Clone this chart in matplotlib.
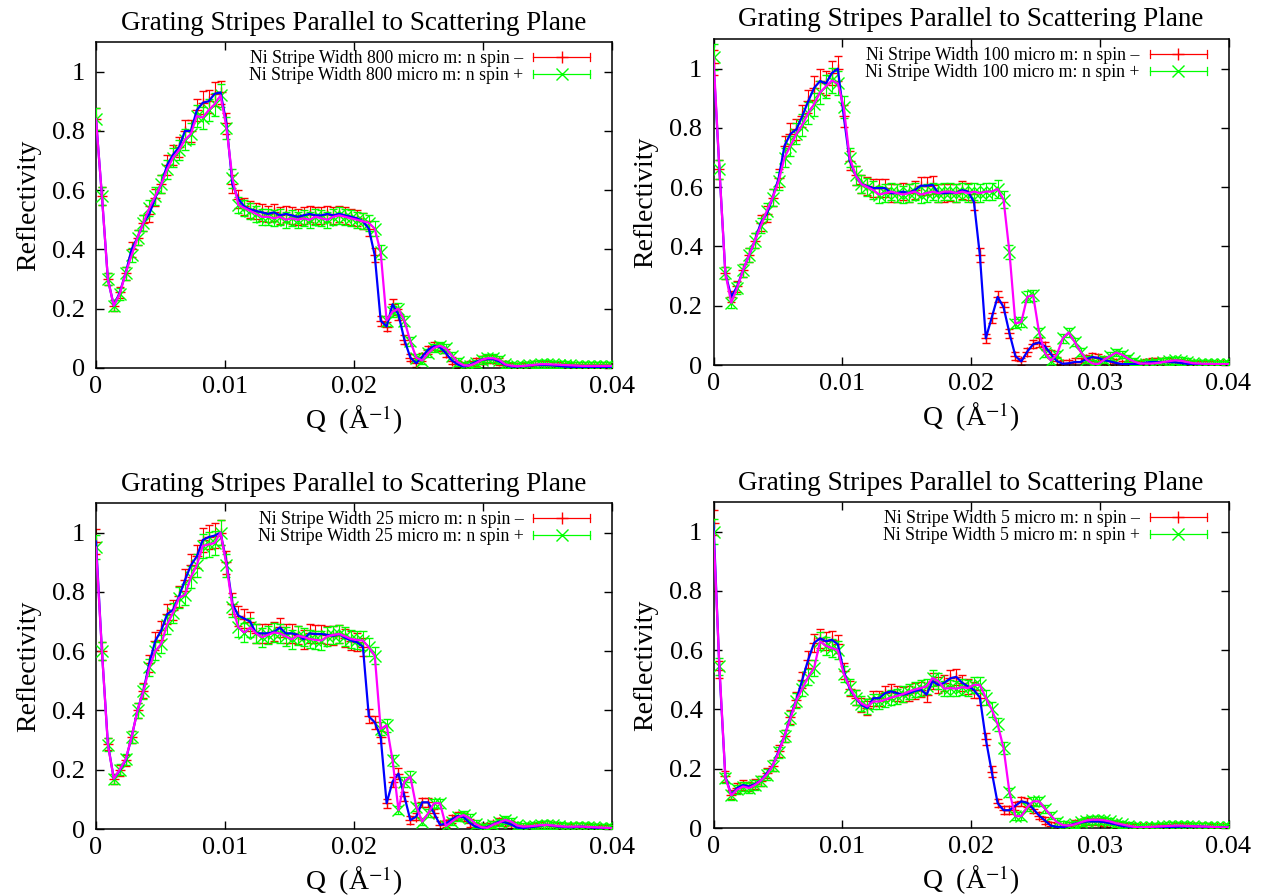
import numpy as np
import matplotlib
matplotlib.use('Agg')
import matplotlib.pyplot as plt
from matplotlib.lines import Line2D
from matplotlib.legend_handler import HandlerBase

plt.rcParams['font.family'] = ['Liberation Serif', 'DejaVu Serif']
plt.rcParams['mathtext.fontset'] = 'stix'

# ---------------- data ----------------
N_POINTS = 88
q = np.linspace(0.0, 0.04, N_POINTS)

titles = ['Grating Stripes Parallel to Scattering Plane'] * 4
stripe_widths = ['800', '100', '25', '5']

r800_minus = [
    0.84, 0.58, 0.30, 0.21, 0.255, 0.32, 0.40, 0.44, 0.49, 0.52,
    0.575, 0.62, 0.685, 0.72, 0.745, 0.80, 0.80, 0.87, 0.895, 0.90,
    0.925, 0.93, 0.825, 0.62, 0.57, 0.545, 0.535, 0.53, 0.525, 0.52,
    0.525, 0.515, 0.52, 0.515, 0.51, 0.515, 0.52, 0.515, 0.515, 0.52,
    0.515, 0.52, 0.515, 0.51, 0.505, 0.495, 0.47, 0.38, 0.16, 0.14,
    0.215, 0.18, 0.095, 0.035, 0.016, 0.038, 0.062, 0.074, 0.07, 0.05,
    0.025, 0.012, 0.005, 0.01, 0.02, 0.028, 0.03, 0.03, 0.022, 0.01,
    0.005, 0.005, 0.006, 0.008, 0.01, 0.01, 0.01, 0.009, 0.007, 0.005,
    0.004, 0.003, 0.003, 0.003, 0.003, 0.003, 0.003, 0.003]
r800_plus = [
    0.84, 0.58, 0.30, 0.21, 0.25, 0.32, 0.38, 0.44, 0.49, 0.54,
    0.58, 0.62, 0.67, 0.71, 0.735, 0.77, 0.79, 0.85, 0.845, 0.87,
    0.89, 0.92, 0.81, 0.64, 0.55, 0.54, 0.53, 0.52, 0.51, 0.51,
    0.505, 0.51, 0.50, 0.505, 0.50, 0.505, 0.50, 0.51, 0.505, 0.50,
    0.51, 0.515, 0.51, 0.505, 0.50, 0.495, 0.49, 0.47, 0.39, 0.16,
    0.19, 0.20, 0.16, 0.09, 0.035, 0.025, 0.05, 0.068, 0.075, 0.066,
    0.042, 0.02, 0.009, 0.008, 0.016, 0.027, 0.033, 0.033, 0.027, 0.012,
    0.008, 0.006, 0.007, 0.009, 0.011, 0.013, 0.013, 0.012, 0.011, 0.01,
    0.009, 0.008, 0.007, 0.007, 0.007, 0.007, 0.007, 0.007]

r100_minus = [
    1.02, 0.66, 0.31, 0.23, 0.265, 0.32, 0.37, 0.42, 0.48, 0.51,
    0.565, 0.63, 0.74, 0.78, 0.795, 0.84, 0.89, 0.935, 0.958, 0.95,
    0.985, 1.0, 0.84, 0.69, 0.64, 0.61, 0.603, 0.597, 0.597, 0.597,
    0.58, 0.58, 0.585, 0.58, 0.59, 0.605, 0.605, 0.608, 0.58, 0.58,
    0.582, 0.58, 0.59, 0.585, 0.55, 0.37, 0.09, 0.16, 0.23, 0.195,
    0.107, 0.03, 0.012, 0.045, 0.07, 0.076, 0.063, 0.037, 0.013, 0.004,
    0.006, 0.01, 0.01, 0.02, 0.027, 0.024, 0.016, 0.012, 0.007, 0.003,
    0.003, 0.003, 0.003, 0.008, 0.01, 0.01, 0.01, 0.01, 0.009, 0.007,
    0.004, 0.003, 0.003, 0.003, 0.003, 0.003, 0.003, 0.003]
r100_plus = [
    1.04, 0.66, 0.31, 0.21, 0.26, 0.32, 0.37, 0.42, 0.47, 0.52,
    0.565, 0.62, 0.70, 0.74, 0.78, 0.81, 0.85, 0.88, 0.92, 0.94,
    0.96, 0.95, 0.87, 0.70, 0.64, 0.61, 0.60, 0.59, 0.575, 0.58,
    0.585, 0.58, 0.575, 0.58, 0.585, 0.575, 0.58, 0.585, 0.58, 0.585,
    0.585, 0.58, 0.585, 0.58, 0.585, 0.58, 0.585, 0.585, 0.594, 0.558,
    0.38, 0.14, 0.145, 0.23, 0.235, 0.11, 0.04, 0.015, 0.035, 0.09,
    0.11, 0.078, 0.045, 0.018, 0.005, 0.003, 0.018, 0.03, 0.042, 0.035,
    0.022, 0.012, 0.005, 0.005, 0.005, 0.007, 0.01, 0.013, 0.016, 0.014,
    0.01, 0.006, 0.005, 0.004, 0.004, 0.003, 0.003, 0.003]

r25_minus = [
    0.97, 0.60, 0.288, 0.17, 0.198, 0.232, 0.31, 0.40, 0.467, 0.56,
    0.635, 0.67, 0.725, 0.74, 0.785, 0.84, 0.89, 0.92, 0.975, 0.985,
    0.99, 1.0, 0.90, 0.76, 0.72, 0.71, 0.70, 0.66, 0.66, 0.66,
    0.665, 0.68, 0.66, 0.66, 0.655, 0.64, 0.66, 0.658, 0.658, 0.655,
    0.652, 0.658, 0.645, 0.636, 0.63, 0.615, 0.38, 0.36, 0.31, 0.087,
    0.16, 0.187, 0.11, 0.03, 0.042, 0.09, 0.09, 0.053, 0.014, 0.018,
    0.033, 0.044, 0.04, 0.02, 0.008, 0.003, 0.007, 0.016, 0.025, 0.022,
    0.015, 0.005, 0.003, 0.006, 0.008, 0.012, 0.014, 0.011, 0.008, 0.007,
    0.006, 0.007, 0.008, 0.006, 0.004, 0.003, 0.002, 0.001]
r25_plus = [
    0.95, 0.60, 0.285, 0.17, 0.20, 0.235, 0.31, 0.40, 0.465, 0.545,
    0.60, 0.625, 0.69, 0.73, 0.78, 0.79, 0.85, 0.89, 0.955, 0.96,
    0.965, 1.0, 0.89, 0.75, 0.68, 0.663, 0.68, 0.66, 0.647, 0.655,
    0.663, 0.66, 0.65, 0.64, 0.652, 0.648, 0.641, 0.638, 0.636, 0.65,
    0.655, 0.658, 0.65, 0.641, 0.638, 0.636, 0.613, 0.585, 0.338, 0.35,
    0.232, 0.064, 0.16, 0.177, 0.075, 0.025, 0.053, 0.087, 0.087, 0.01,
    0.025, 0.04, 0.047, 0.036, 0.017, 0.006, 0.004, 0.015, 0.022, 0.031,
    0.025, 0.012, 0.008, 0.009, 0.011, 0.013, 0.014, 0.012, 0.01, 0.008,
    0.008, 0.008, 0.008, 0.007, 0.006, 0.005, 0.004, 0.003]

r5_minus = [
    1.03, 0.534, 0.174, 0.112, 0.135, 0.145, 0.14, 0.148, 0.16, 0.185,
    0.21, 0.26, 0.31, 0.375, 0.433, 0.50, 0.568, 0.625, 0.64, 0.63,
    0.635, 0.62, 0.53, 0.47, 0.44, 0.415, 0.405, 0.438, 0.438, 0.455,
    0.461, 0.455, 0.45, 0.455, 0.462, 0.467, 0.45, 0.495, 0.483, 0.49,
    0.505, 0.51, 0.49, 0.478, 0.466, 0.44, 0.30, 0.19, 0.084, 0.06,
    0.06, 0.075, 0.09, 0.085, 0.065, 0.042, 0.025, 0.008, 0.004, 0.002,
    0.008, 0.014, 0.018, 0.022, 0.022, 0.022, 0.02, 0.016, 0.012, 0.007,
    0.005, 0.003, 0.002, 0.002, 0.002, 0.002, 0.002, 0.003, 0.004, 0.005,
    0.005, 0.005, 0.005, 0.004, 0.003, 0.003, 0.002, 0.002]
r5_plus = [
    1.00, 0.545, 0.17, 0.11, 0.13, 0.14, 0.135, 0.145, 0.16, 0.18,
    0.21, 0.255, 0.31, 0.37, 0.43, 0.47, 0.51, 0.54, 0.63, 0.615,
    0.607, 0.60, 0.52, 0.475, 0.44, 0.42, 0.41, 0.427, 0.427, 0.433,
    0.44, 0.445, 0.452, 0.46, 0.467, 0.472, 0.478, 0.506, 0.495, 0.47,
    0.472, 0.47, 0.475, 0.472, 0.483, 0.483, 0.44, 0.40, 0.35, 0.27,
    0.12, 0.04, 0.04, 0.07, 0.09, 0.09, 0.065, 0.042, 0.02, 0.01,
    0.008, 0.012, 0.019, 0.025, 0.028, 0.028, 0.026, 0.022, 0.016, 0.012,
    0.008, 0.004, 0.002, 0.003, 0.004, 0.005, 0.006, 0.007, 0.008, 0.008,
    0.007, 0.006, 0.005, 0.005, 0.004, 0.003, 0.002, 0.002]

minus_series = [r800_minus, r100_minus, r25_minus, r5_minus]
plus_series = [r800_plus, r100_plus, r25_plus, r5_plus]

# error bar size: about 1 % absolute + 3 % of value
ERR_ABS = 0.012
ERR_REL = 0.03

x_ticks = [0, 0.01, 0.02, 0.03, 0.04]
x_tick_labels = ['0', '0.01', '0.02', '0.03', '0.04']
y_ticks = [0, 0.2, 0.4, 0.6, 0.8, 1.0]
y_tick_labels = ['0', '0.2', '0.4', '0.6', '0.8', '1']

# ---------------- styles ----------------
RED = '#ff0000'
GREEN = '#00ff00'
BLUE = '#0000ff'
MAGENTA = '#ff00ff'

W, H = 1268, 896
axes_px = [  # left, top, right, bottom in pixels
    (96, 42, 612, 368),
    (713.5, 39, 1228.5, 365),
    (96, 503, 612, 829),
    (713.5, 502, 1228.5, 828),
]


class ErrKeyHandler(HandlerBase):
    def __init__(self, color, marker, msize):
        super().__init__()
        self.color = color
        self.marker = marker
        self.msize = msize

    def create_artists(self, legend, orig_handle, xdescent, ydescent,
                       width, height, fontsize, trans):
        y = height / 2.0 - ydescent
        x0 = -xdescent
        x1 = -xdescent + width
        cap = 3.0
        arts = [
            Line2D([x0, x1], [y, y], color=self.color, lw=0.9),
            Line2D([x0, x0], [y - cap, y + cap], color=self.color, lw=0.9),
            Line2D([x1, x1], [y - cap, y + cap], color=self.color, lw=0.9),
            Line2D([(x0 + x1) / 2], [y], color=self.color, marker=self.marker,
                   markersize=self.msize, mew=1.0, linestyle='none'),
        ]
        for a in arts:
            a.set_transform(trans)
        return arts


fig = plt.figure(figsize=(W / 100, H / 100), dpi=100)

for k in range(4):
    l, t, r, b = axes_px[k]
    ax = fig.add_axes([l / W, 1 - b / H, (r - l) / W, (b - t) / H])
    rm = np.array(minus_series[k])
    rp = np.array(plus_series[k])

    ax.errorbar(q, rm, yerr=ERR_ABS + ERR_REL * rm, fmt='+', color=RED,
                ecolor=RED, elinewidth=0.8, capsize=3, capthick=0.8,
                markersize=7, mew=1.0, zorder=2)
    ax.errorbar(q, rp, yerr=ERR_ABS + ERR_REL * rp, fmt='x', color=GREEN,
                ecolor=GREEN, elinewidth=0.8, capsize=3, capthick=0.8,
                markersize=8, mew=1.0, zorder=3)
    ax.plot(q, rm, color=BLUE, lw=1.6, zorder=4)
    ax.plot(q, rp, color=MAGENTA, lw=1.6, zorder=5)

    ax.set_xlim(0, 0.04)
    ax.set_ylim(0, 1.1)
    ax.set_xticks(x_ticks)
    ax.set_xticklabels(x_tick_labels)
    ax.set_yticks(y_ticks)
    ax.set_yticklabels(y_tick_labels)
    ax.tick_params(direction='in', length=6, width=1.0, top=True, right=True,
                   labelsize=19)
    ax.tick_params(axis='x', pad=6)
    ax.tick_params(axis='y', pad=8)
    for s in ax.spines.values():
        s.set_linewidth(1.1)

    ax.set_title(titles[k], fontsize=19.5, pad=9)
    ax.set_ylabel('Reflectivity', fontsize=20, labelpad=8)
    ax.set_xlabel('Q  (Å$^{-1}$)', fontsize=20, labelpad=4)

    h_minus = Line2D([], [], color=RED)
    h_plus = Line2D([], [], color=GREEN)
    lbl_m = 'Ni Stripe Width %s micro m: n spin –' % stripe_widths[k]
    lbl_p = 'Ni Stripe Width %s micro m: n spin +' % stripe_widths[k]
    ax_w = r - l
    ax_h = b - t
    ax.legend([h_minus, h_plus], [lbl_m, lbl_p], loc='upper right',
              bbox_to_anchor=(1 - 22 / ax_w, 1 - 8 / ax_h),
              frameon=False, fontsize=12.8, markerfirst=False,
              handlelength=3.2, handletextpad=0.55, labelspacing=0.0,
              borderaxespad=0.0, borderpad=0.0,
              handler_map={h_minus: ErrKeyHandler(RED, '+', 8),
                           h_plus: ErrKeyHandler(GREEN, 'x', 9)})

fig.savefig('out.png', dpi=100)
